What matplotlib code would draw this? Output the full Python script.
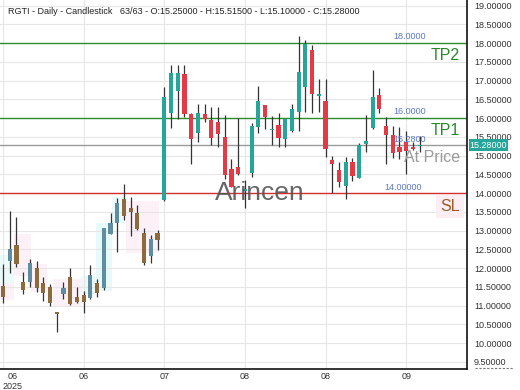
import matplotlib
matplotlib.use("Agg")
import matplotlib.pyplot as plt
import numpy as np

plt.rcParams['font.family'] = ['Liberation Sans', 'DejaVu Sans']

# daily candles (open, high, low, close)
opens = [11.52, 12.19, 12.61, 11.64, 11.64, 11.99, 11.59, 11.50, 10.80, 11.30,
         11.75, 11.24, 11.28, 11.19, 11.61, 11.46, 12.91, 13.21, 13.83, 13.59,
         13.47, 12.93, 12.32, 12.93, 13.81, 16.13, 16.73, 17.17, 16.11, 15.61,
         16.11, 15.95, 15.90, 15.49, 14.63, 14.70, 14.05, 14.53, 15.77, 16.35,
         15.67, 15.81, 15.43, 15.66, 16.17, 16.82, 17.81, 16.60, 16.46, 14.88,
         14.61, 14.19, 14.83, 14.41, 15.30, 15.73, 16.61, 15.79, 15.55, 15.22,
         15.37, 15.23, 15.25]
highs = [12.11, 13.53, 13.37, 11.90, 12.24, 12.19, 11.75, 11.57, 10.83, 11.62,
         12.01, 11.50, 11.39, 12.07, 11.71, 13.07, 13.47, 13.86, 14.24, 13.89,
         13.68, 13.06, 12.88, 13.01, 16.83, 17.41, 17.41, 17.41, 16.13, 16.37,
         16.37, 16.30, 16.29, 16.07, 14.91, 15.99, 14.35, 15.86, 16.85, 16.35,
         16.05, 16.14, 15.97, 16.37, 18.19, 18.08, 17.95, 17.03, 17.03, 14.99,
         14.83, 14.97, 14.94, 15.34, 16.08, 17.28, 16.79, 16.02, 15.79, 15.77,
         15.66, 15.37, 15.515]
lows = [11.06, 11.86, 12.02, 11.30, 11.49, 11.37, 11.13, 10.99, 10.30, 11.17,
        11.01, 11.07, 10.79, 11.17, 11.24, 11.41, 12.91, 12.43, 13.28, 12.85,
        13.01, 12.08, 12.14, 12.48, 13.80, 15.73, 15.97, 16.03, 14.77, 15.37,
        15.90, 15.28, 15.22, 14.37, 14.15, 14.48, 13.59, 14.43, 15.59, 15.70,
        15.28, 15.22, 15.23, 15.63, 15.66, 16.17, 16.14, 16.17, 14.95, 13.99,
        14.17, 13.83, 14.33, 14.39, 15.10, 15.70, 16.14, 14.77, 14.93, 14.90,
        14.51, 15.15, 15.10]
closes = [11.24, 12.50, 12.11, 11.41, 12.14, 11.46, 11.33, 11.06, 10.78, 11.47,
          11.03, 11.10, 11.10, 11.81, 11.34, 13.06, 13.21, 13.74, 13.39, 13.50,
          13.03, 12.14, 12.77, 12.75, 16.57, 17.19, 17.19, 16.11, 15.43, 16.14,
          15.97, 15.46, 15.57, 14.48, 14.17, 14.51, 14.11, 15.79, 16.46, 16.02,
          15.69, 15.46, 15.97, 16.23, 17.23, 17.97, 16.64, 16.63, 15.17, 14.77,
          14.30, 14.83, 14.46, 15.28, 15.39, 16.55, 16.24, 15.55, 15.07, 15.10,
          15.13, 15.17, 15.28]

# first candles are drawn muted (highlighted pattern zone)
n_muted = 24

# x axis tick labels every 12 candles
tick_idx = [0, 12, 24, 36, 48, 60]
tick_labels = ['06\n2025', '06', '07', '08', '08', '09']

# levels
tp2 = 18.0
tp1 = 16.0
price = 15.28
sl = 14.0

# faint pattern shading: (first idx, last idx, low, high, colour)
zones = [(-0.5, 1.6, 11.3, 12.35, '#ebfafa'),
         (-0.5, 1.6, 11.15, 11.6, '#fdf0f6'),
         (1.6, 4.1, 11.8, 12.9, '#fdf0f6'),
         (4.1, 6.6, 11.35, 12.1, '#fdf0f6'),
         (7.4, 11.6, 10.95, 11.7, '#fdf0f6'),
         (11.6, 13.8, 11.3, 11.8, '#ebfafa'),
         (13.8, 16.2, 11.4, 13.2, '#e6fafa'),
         (16.2, 18.0, 13.2, 13.9, '#ebfafa'),
         (18.3, 23.2, 12.4, 13.8, '#fdf0f6')]

fig = plt.figure(figsize=(5.2, 3.9), dpi=100)
ax = fig.add_axes([0, 21 / 390, 467 / 520, 369 / 390])

x = np.arange(len(opens))
o = np.array(opens); h = np.array(highs); l = np.array(lows); c = np.array(closes)
up = c >= o

for z in zones:
    ax.fill_between([z[0], z[1]], z[2], z[3], color=z[4], lw=0, zorder=0)

up_col = np.where(x < n_muted, '#5f8ea3', '#26a69a')
dn_col = np.where(x < n_muted, '#8d6b3e', '#e53945')
cols = np.where(up, up_col, dn_col)

ax.vlines(x, l, h, color='#333333', lw=0.9, zorder=3)
body_lo = np.minimum(o, c)
body_h = np.maximum(np.abs(c - o), 0.04)
ax.bar(x, body_h, bottom=body_lo, width=0.62, color=cols, lw=0, zorder=4)

# level lines
ax.axhline(tp2, color='#2e8b2e', lw=1.0, zorder=2)
ax.axhline(tp1, color='#2e8b2e', lw=1.0, zorder=2)
ax.axhline(price, color='#9a9a9a', lw=1.0, zorder=2)
ax.axhline(sl, color='#d32f2f', lw=1.0, zorder=2)

tr = ax.get_yaxis_transform()
ax.text(0.912, tp2 + 0.18, '18.0000', transform=tr, ha='right', va='center', fontsize=6.5, color='#5a78c8')
ax.text(0.912, tp1 + 0.17, '16.0000', transform=tr, ha='right', va='center', fontsize=6.5, color='#5a78c8')
ax.text(0.912, price + 0.14, '15.2800', transform=tr, ha='right', va='center', fontsize=6.5, color='#5a78c8', zorder=5)
ax.text(0.903, sl + 0.15, '14.00000', transform=tr, ha='right', va='center', fontsize=6.5, color='#5a78c8')
ax.text(0.985, tp2 - 0.32, 'TP2', transform=tr, ha='right', va='center', fontsize=11.5, color='#2a8a2a')
ax.text(0.985, tp1 - 0.32, 'TP1', transform=tr, ha='right', va='center', fontsize=11.5, color='#2a8a2a')
ax.text(0.985, price - 0.33, 'At Price', transform=tr, ha='right', va='center', fontsize=11.5, color='#9a9a9a', zorder=5)
ax.text(0.985, sl - 0.35, 'SL', transform=tr, ha='right', va='center', fontsize=11.5, color='#a0582d',
        bbox=dict(boxstyle='square,pad=0.25', fc='#fdeef4', ec='none'))

# current price tag on the right axis
ax.text(1.006, price, '15.28000', transform=tr, ha='left', va='center', fontsize=6.5, color='white',
        bbox=dict(boxstyle='square,pad=0.12', fc='#26a69a', ec='none'), clip_on=False, zorder=6)

# watermark
fig.text(0.5, 1 - 193 / 390, 'Arincen', ha='center', va='center', fontsize=19, color='#555555', alpha=0.9)

# title line
fig.text(8 / 520, 1 - 12 / 390,
         'RGTI - Daily - Candlestick   63/63 - O:15.25000 - H:15.51500 - L:15.10000 - C:15.28000',
         ha='left', va='center', fontsize=6.5, color='#222222')

# dashed underline below the lowest price label
fig.add_artist(plt.Line2D([475 / 520, 513 / 520], [1 - 368 / 390, 1 - 368 / 390],
                          color='#777777', lw=0.8, ls=(0, (2, 1.5))))

ax.set_xlim(-0.446, 69.05)
ax.set_ylim(9.307, 19.147)
ax.set_yticks(np.arange(9.5, 19.01, 0.5))
ax.set_yticklabels(['%.5f' % v for v in np.arange(9.5, 19.01, 0.5)])
ax.yaxis.tick_right()
ax.tick_params(axis='y', length=0, pad=5, labelsize=6.5, labelcolor='#333333')
ax.set_xticks(tick_idx)
ax.set_xticklabels(tick_labels)
ax.tick_params(axis='x', length=0, pad=2, labelsize=6.5, labelcolor='#333333')
first = ax.get_xticklabels()[0]
first.set_ha('left')
first.set_multialignment('center')

ax.grid(True, color='#e6e6e6', lw=0.8, zorder=0)
ax.set_axisbelow(True)
for s in ['top', 'left']:
    ax.spines[s].set_visible(False)
ax.spines['right'].set_color('#111111')
ax.spines['bottom'].set_color('#111111')
ax.spines['right'].set_linewidth(1.2)
ax.spines['bottom'].set_linewidth(1.2)

plt.savefig('out.png', dpi=100)
